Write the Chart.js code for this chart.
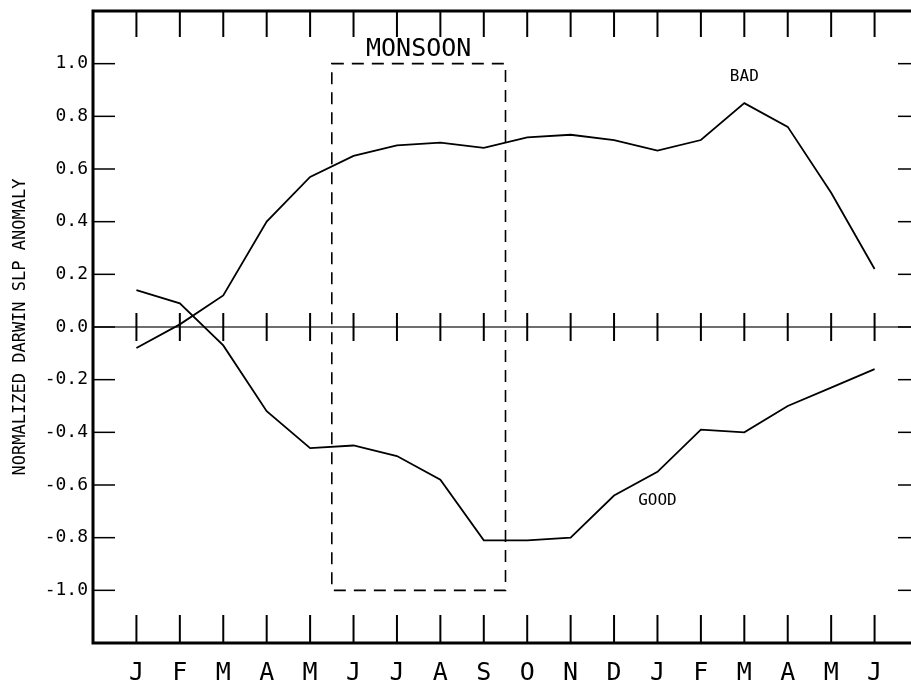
<!DOCTYPE html>
<html>
<head>
<meta charset="utf-8">
<title>Normalized Darwin SLP anomaly</title>
<script src="https://cdn.jsdelivr.net/npm/chart.js@4.4.1/dist/chart.umd.min.js"></script>
<style>
  html, body { margin: 0; padding: 0; background: #fff; overflow: hidden; }
  #wrap { width: 930px; height: 685px; }
</style>
</head>
<body>
<div id="wrap"><canvas id="chart" width="930" height="685"></canvas></div>
<script>
// ---- data ----
const MONTHS = ['J','F','M','A','M','J','J','A','S','O','N','D','J','F','M','A','M','J'];
const BAD  = [-0.08, 0.01, 0.12, 0.40, 0.57, 0.65, 0.69, 0.70, 0.68, 0.72, 0.73, 0.71, 0.67, 0.71, 0.85, 0.76, 0.51, 0.22];
const GOOD = [ 0.14, 0.09, -0.07, -0.32, -0.46, -0.45, -0.49, -0.58, -0.81, -0.81, -0.80, -0.64, -0.55, -0.39, -0.40, -0.30, -0.23, -0.16];
const Y_TICKS = [-1.0, -0.8, -0.6, -0.4, -0.2, 0.0, 0.2, 0.4, 0.6, 0.8, 1.0];

// monsoon window (month index, anomaly) and curve labels
const BOX = { x0: 4.5, x1: 8.5, y0: -1.0, y1: 1.0 };
const LABELS = [
  { text: 'MONSOON', x: 6.5, y: 1.0,   size: 25, base: 'bottom', dy: -2 },
  { text: 'BAD',     x: 14,  y: 0.95,  size: 16, base: 'middle', dy: 0 },
  { text: 'GOOD',    x: 12,  y: -0.66, size: 16, base: 'middle', dy: 0 }
];

const FONT = "'DejaVu Sans Mono', monospace";

function seg(ctx, x1, y1, x2, y2) {
  ctx.beginPath(); ctx.moveTo(x1, y1); ctx.lineTo(x2, y2); ctx.stroke();
}

const decor = {
  id: 'decor',
  beforeDatasetsDraw(chart) {
    const { ctx, chartArea: a, scales: { x, y } } = chart;
    ctx.save();
    // zero line
    const y0 = y.getPixelForValue(0);
    ctx.strokeStyle = '#6e6e6e'; ctx.lineWidth = 2;
    seg(ctx, a.left, y0, a.right, y0);
    // monsoon box
    ctx.strokeStyle = '#000'; ctx.lineWidth = 1.6; ctx.setLineDash([12, 8]);
    const bx0 = x.getPixelForValue(BOX.x0), bx1 = x.getPixelForValue(BOX.x1);
    const by0 = y.getPixelForValue(BOX.y0), by1 = y.getPixelForValue(BOX.y1);
    ctx.strokeRect(bx0, by1, bx1 - bx0, by0 - by1);
    ctx.restore();
  },
  afterDatasetsDraw(chart) {
    const { ctx, chartArea: a, scales: { x, y } } = chart;
    ctx.save();
    ctx.strokeStyle = '#000';
    // month ticks: top, bottom, across zero
    const y0 = y.getPixelForValue(0);
    ctx.lineWidth = 2;
    MONTHS.forEach((m, i) => {
      const px = x.getPixelForValue(i);
      seg(ctx, px, a.top, px, a.top + 26);
      seg(ctx, px, a.bottom, px, a.bottom - 28);
      seg(ctx, px, y0 - 14, px, y0 + 14);
    });
    // value ticks left and right
    ctx.lineWidth = 1.5;
    Y_TICKS.forEach(v => {
      const py = y.getPixelForValue(v);
      seg(ctx, a.left, py, a.left + 22, py);
      seg(ctx, a.right, py, a.right - 20, py);
    });
    // frame
    ctx.lineWidth = 3;
    ctx.strokeRect(a.left, a.top, a.right - a.left, a.bottom - a.top);
    // labels
    ctx.fillStyle = '#000'; ctx.textAlign = 'center';
    LABELS.forEach(l => {
      ctx.font = l.size + 'px ' + FONT;
      ctx.textBaseline = l.base;
      ctx.fillText(l.text, x.getPixelForValue(l.x), y.getPixelForValue(l.y) + l.dy);
    });
    ctx.restore();
  }
};

new Chart(document.getElementById('chart'), {
  type: 'line',
  data: {
    datasets: [
      { label: 'BAD',  data: BAD.map((v, i) => ({ x: i, y: v })) },
      { label: 'GOOD', data: GOOD.map((v, i) => ({ x: i, y: v })) }
    ]
  },
  options: {
    responsive: false,
    animation: false,
    devicePixelRatio: 1,
    layout: { padding: { top: 11, right: 12, bottom: 0, left: 0 } },
    elements: {
      line: { borderColor: '#000', borderWidth: 1.8, tension: 0 },
      point: { radius: 0 }
    },
    plugins: { legend: { display: false }, tooltip: { enabled: false } },
    scales: {
      x: {
        type: 'linear', min: -1, max: 18,
        afterBuildTicks: s => { s.ticks = MONTHS.map((m, i) => ({ value: i })); },
        afterFit: s => { s.height = 42; s.paddingLeft = 0; s.paddingRight = 0; },
        grid: { display: false, drawTicks: false },
        border: { display: false },
        ticks: {
          padding: 15, color: '#000', autoSkip: false, maxRotation: 0,
          font: { family: FONT, size: 25 },
          callback: v => MONTHS[v]
        }
      },
      y: {
        min: -1.2, max: 1.2,
        afterBuildTicks: s => { s.ticks = Y_TICKS.map(v => ({ value: v })); },
        afterFit: s => { s.width = 93; s.paddingTop = 0; s.paddingBottom = 0; },
        grid: { display: false, drawTicks: false },
        border: { display: false },
        ticks: {
          padding: 5, color: '#000',
          font: { family: FONT, size: 18 },
          callback: v => v.toFixed(1)
        },
        title: {
          display: true, text: 'NORMALIZED DARWIN SLP ANOMALY', color: '#000',
          font: { family: FONT, size: 17 }, padding: { top: 10, bottom: 0 }
        }
      }
    }
  },
  plugins: [decor]
});
</script>
</body>
</html>
